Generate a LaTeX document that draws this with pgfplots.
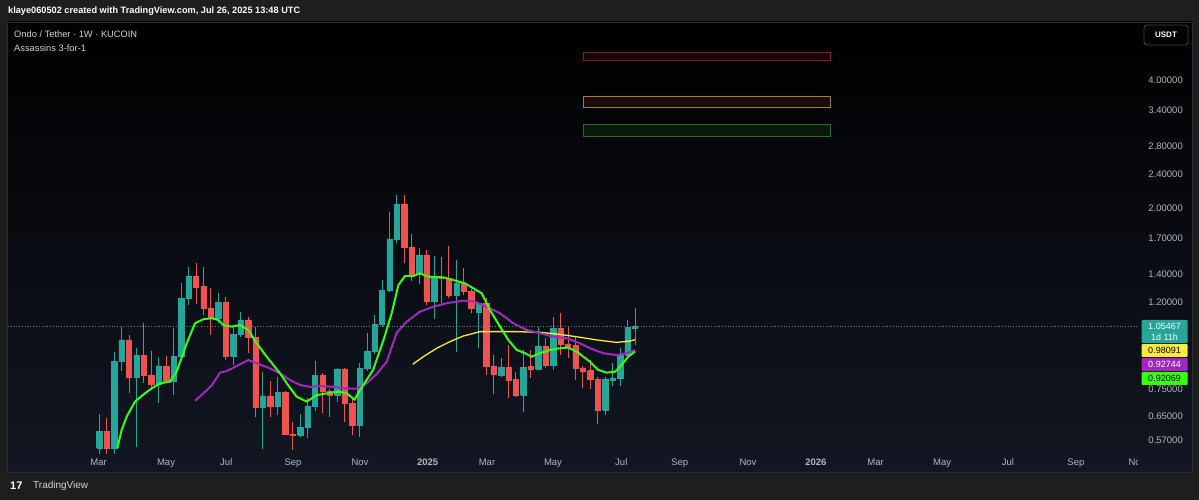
\documentclass[border=0pt]{standalone}
\usepackage{pgfplots}
\pgfplotsset{compat=1.18}
\usepackage{pgfplotstable}
\usepackage{fontspec}
\setmainfont{Liberation Sans}

\definecolor{tvbg}{RGB}{30,30,30}
\definecolor{tvpanelbot}{RGB}{18,23,35}
\definecolor{tvborder}{RGB}{42,46,57}
\definecolor{tvup}{RGB}{38,166,154}
\definecolor{tvdown}{RGB}{239,83,80}
\definecolor{tvtext}{RGB}{178,181,190}
\definecolor{tvlegend}{RGB}{209,212,220}
\definecolor{tvpriceline}{RGB}{95,120,125}
\definecolor{tvbutton}{RGB}{67,70,81}
\definecolor{emafast}{RGB}{57,255,20}
\definecolor{emamid}{RGB}{160,40,190}
\definecolor{emaslow}{RGB}{255,235,59}
\definecolor{boxred}{RGB}{125,30,42}
\definecolor{boxredfill}{RGB}{28,5,9}
\definecolor{boxyel}{RGB}{156,125,70}
\definecolor{boxyelfill}{RGB}{29,10,17}
\definecolor{boxgrn}{RGB}{45,107,40}
\definecolor{boxgrnfill}{RGB}{10,26,10}

% weekly candles, x = week index (0 = first week of Mar 2024)
\pgfplotstableread{
x o h l c
0 0.545 0.655 0.530 0.597
1 0.597 0.642 0.530 0.545
2 0.545 0.918 0.530 0.874
3 0.874 1.050 0.828 0.980
4 0.980 1.007 0.735 0.801
5 0.801 0.938 0.549 0.903
6 0.903 1.072 0.776 0.811
7 0.811 0.923 0.754 0.772
8 0.772 0.895 0.696 0.851
9 0.851 0.898 0.776 0.782
10 0.782 1.044 0.727 0.898
11 0.898 1.331 0.890 1.228
12 1.228 1.456 1.184 1.380
13 1.380 1.484 1.190 1.303
14 1.307 1.452 1.122 1.163
15 1.165 1.296 1.007 1.102
16 1.102 1.261 1.075 1.201
17 1.201 1.234 0.879 0.898
18 0.898 1.053 0.856 1.010
19 1.010 1.142 0.997 1.092
20 1.092 1.111 0.912 0.992
21 0.992 1.053 0.647 0.681
22 0.681 0.825 0.542 0.724
23 0.724 0.785 0.647 0.685
24 0.686 0.803 0.653 0.738
25 0.738 0.745 0.586 0.588
26 0.588 0.630 0.540 0.585
27 0.585 0.655 0.580 0.610
28 0.610 0.715 0.577 0.683
29 0.683 0.874 0.667 0.808
30 0.808 0.820 0.659 0.741
31 0.743 0.750 0.647 0.727
32 0.727 0.840 0.702 0.836
33 0.836 0.840 0.630 0.696
34 0.696 0.721 0.586 0.618
35 0.618 0.864 0.580 0.840
36 0.840 1.019 0.830 0.923
37 0.923 1.120 0.910 1.065
38 1.065 1.359 1.050 1.284
39 1.284 1.962 1.270 1.689
40 1.689 2.147 1.660 2.045
41 2.045 2.150 1.484 1.618
42 1.618 1.738 1.345 1.398
43 1.398 1.610 1.325 1.552
44 1.552 1.594 1.184 1.205
45 1.205 1.547 1.097 1.374
46 1.374 1.538 1.200 1.368
47 1.368 1.630 1.230 1.250
48 1.250 1.510 0.920 1.331
49 1.331 1.444 1.250 1.272
50 1.275 1.290 1.132 1.163
51 1.140 1.200 0.937 1.195
52 1.195 1.228 0.811 0.848
53 0.848 0.903 0.733 0.814
54 0.811 0.887 0.803 0.846
55 0.846 0.954 0.715 0.789
56 0.792 0.825 0.721 0.727
57 0.727 0.930 0.665 0.846
58 0.848 0.928 0.798 0.837
59 0.837 1.053 0.833 0.945
60 0.945 0.990 0.843 0.856
61 0.856 1.111 0.833 1.043
62 1.043 1.132 0.905 0.959
63 0.959 1.053 0.887 0.948
64 0.950 0.997 0.787 0.843
65 0.843 0.850 0.757 0.828
66 0.830 0.880 0.750 0.792
67 0.792 0.800 0.621 0.671
68 0.671 0.803 0.653 0.792
69 0.789 0.865 0.762 0.796
70 0.796 0.936 0.764 0.903
71 0.903 1.092 0.898 1.049
72 1.045 1.167 0.954 1.05467
}\ohlc

\pgfplotstableread{
x y
2.42 0.545
3.01 0.602
3.68 0.647
4.80 0.702
6.14 0.734
7.04 0.754
8.16 0.775
9.50 0.782
10.40 0.825
11.75 0.962
12.86 1.072
13.98 1.096
15.11 1.102
16.00 1.092
16.67 1.062
17.80 1.053
18.91 1.062
20.03 1.034
21.16 0.962
22.50 0.895
24.29 0.818
25.40 0.766
26.53 0.721
27.88 0.702
29.22 0.727
30.56 0.734
32.12 0.741
33.25 0.734
34.30 0.710
35.00 0.745
36.80 0.833
38.20 0.980
39.30 1.132
40.20 1.319
41.09 1.385
42.20 1.385
43.10 1.405
44.22 1.380
46.24 1.375
47.58 1.355
49.15 1.331
50.27 1.296
51.40 1.261
52.51 1.152
53.86 1.053
54.97 0.980
56.10 0.928
57.22 0.912
58.12 0.895
59.23 0.912
60.58 0.928
61.92 0.937
63.04 0.940
64.17 0.920
65.05 0.895
65.95 0.871
67.07 0.833
68.20 0.821
69.31 0.825
69.99 0.848
71.10 0.895
72.00 0.9207
}\fastma

\pgfplotstableread{
x y
12.86 0.705
13.98 0.734
15.11 0.766
16.22 0.821
17.12 0.828
18.47 0.851
20.03 0.879
21.16 0.864
22.94 0.840
24.29 0.818
25.63 0.789
26.98 0.768
28.32 0.760
29.66 0.764
31.45 0.760
33.25 0.754
34.60 0.753
35.94 0.775
37.28 0.815
38.63 0.871
39.97 1.019
41.32 1.082
43.10 1.142
44.89 1.173
46.69 1.195
48.92 1.212
50.50 1.205
52.07 1.173
53.86 1.132
55.65 1.072
57.45 1.034
59.23 1.016
61.02 0.997
62.82 0.989
64.61 0.962
65.95 0.937
67.74 0.912
69.54 0.903
70.89 0.912
72.00 0.9274
}\midma

\pgfplotstableread{
x y
42.12 0.859
43.55 0.895
45.35 0.937
47.14 0.971
48.92 1.001
51.17 1.025
52.96 1.025
56.10 1.025
59.23 1.021
61.48 1.012
64.17 0.997
66.85 0.980
69.54 0.967
71.33 0.974
72.00 0.9809
}\slowma

\begin{document}
\begin{tikzpicture}[x=1pt,y=1pt]
\path[use as bounding box] (0,0) rectangle (1199,500);
\fill[tvbg] (0,0) rectangle (1199,500);
\shade[top color=black, bottom color=tvpanelbot] (7,28) rectangle (1192,478);

\begin{axis}[
  at={(8pt,45pt)}, anchor=south west, scale only axis,
  width=1129pt, height=433pt,
  xmin=-12.27, xmax=139.47,
  ymode=log, ymin=0.5258, ymax=5.475,
  axis line style={draw=none}, tick style={draw=none},
  ytick=\empty,
  xtick pos=bottom,
  xtick={-0.1,8.97,17.07,26.03,35.04,44.13,52.11,60.98,70.16,78.02,87.18,96.32,104.34,113.28,122.12,131.26},
  xticklabels={Mar,May,Jul,Sep,Nov,\textbf{2025},Mar,May,Jul,Sep,Nov,\textbf{2026},Mar,May,Jul,Sep},
  xticklabel style={font=\fontsize{9.5}{11}\selectfont, text=tvtext, anchor=north, inner sep=0pt, yshift=-3.5pt},
  extra x ticks={139.4},
  extra x tick labels={Nov},
  extra x tick style={xticklabel style={xshift=0.5pt}},
]
% target zones
\addplot[draw=boxred, fill=boxredfill, line width=1pt] coordinates {(65.1,4.44) (98.3,4.44) (98.3,4.654) (65.1,4.654) (65.1,4.44)};
\addplot[draw=boxyel, fill=boxyelfill, line width=1pt] coordinates {(65.1,3.443) (98.3,3.443) (98.3,3.654) (65.1,3.654) (65.1,3.443)};
\addplot[draw=boxgrn, fill=boxgrnfill, line width=1pt] coordinates {(65.1,2.943) (98.3,2.943) (98.3,3.152) (65.1,3.152) (65.1,2.943)};

% last price line
\addplot[tvpriceline, dotted, line width=0.8pt] coordinates {(-12.27,1.05467) (139.47,1.05467)};

% candles
\pgfplotstablegetrowsof{\ohlc}
\pgfmathtruncatemacro{\nrows}{\pgfplotsretval-1}
\pgfplotsforeachungrouped \i in {0,...,\nrows}{%
  \pgfplotstablegetelem{\i}{x}\of\ohlc \let\cx\pgfplotsretval
  \pgfplotstablegetelem{\i}{o}\of\ohlc \let\co\pgfplotsretval
  \pgfplotstablegetelem{\i}{h}\of\ohlc \let\ch\pgfplotsretval
  \pgfplotstablegetelem{\i}{l}\of\ohlc \let\cl\pgfplotsretval
  \pgfplotstablegetelem{\i}{c}\of\ohlc \let\cc\pgfplotsretval
  \pgfmathsetmacro{\xa}{\cx-0.36}%
  \pgfmathsetmacro{\xb}{\cx+0.36}%
  \pgfmathparse{\cc<\co}%
  \ifdim\pgfmathresult pt>0.5pt \def\col{tvdown}\else\def\col{tvup}\fi
  \edef\temp{%
    \noexpand\addplot[\col, line width=1pt] coordinates {(\cx,\cl) (\cx,\ch)};
    \noexpand\addplot[draw=\col, fill=\col, line width=0.5pt] coordinates {(\xa,\co) (\xb,\co) (\xb,\cc) (\xa,\cc) (\xa,\co)};
  }%
  \temp
}

% moving averages
\addplot[emaslow, line width=1.3pt] table[x=x, y=y] {\slowma};
\addplot[emamid, line width=2pt] table[x=x, y=y] {\midma};
\addplot[emafast, line width=2pt] table[x=x, y=y] {\fastma};
\end{axis}

% price scale column
\shade[top color=black, bottom color=tvpanelbot] (1138.5,28) rectangle (1192,478);

\begin{axis}[
  at={(8pt,45pt)}, anchor=south west, scale only axis,
  width=1129pt, height=433pt,
  xmin=-12.27, xmax=139.47,
  ymode=log, ymin=0.5258, ymax=5.475,
  axis line style={draw=none}, tick style={draw=none},
  xtick=\empty,
  ytick={0.57,0.65,0.75,1.2,1.4,1.7,2,2.4,2.8,3.4,4},
  yticklabels={0.57000,0.65000,0.75000,1.20000,1.40000,1.70000,2.00000,2.40000,2.80000,3.40000,4.00000},
  yticklabel pos=right,
  yticklabel style={font=\fontsize{9.5}{11}\selectfont, text=tvtext, anchor=east, inner sep=0pt, xshift=46pt},
]
\end{axis}

\draw[tvborder, line width=0.8pt] (7,28) rectangle (1192,478);

% price tags
\fill[tvup, rounded corners=1pt] (1141.5,157) rectangle (1187.5,180);
\node[white, font=\fontsize{9}{10}\selectfont, inner sep=0pt] at (1164.5,173.3) {1.05467};
\node[white, font=\fontsize{9}{10}\selectfont, inner sep=0pt] at (1164.5,162.5) {1d 11h};
\fill[emaslow, rounded corners=1pt] (1141.5,143) rectangle (1187.5,156);
\node[black, font=\fontsize{9}{10}\selectfont, inner sep=0pt] at (1164.5,149.5) {0.98091};
\fill[emamid, rounded corners=1pt] (1141.5,129) rectangle (1187.5,142);
\node[white, font=\fontsize{9}{10}\selectfont, inner sep=0pt] at (1164.5,135.5) {0.92744};
\fill[emafast, rounded corners=1pt] (1141.5,115) rectangle (1187.5,128);
\node[black, font=\fontsize{9}{10}\selectfont, inner sep=0pt] at (1164.5,121.5) {0.92069};

% currency button
\draw[tvbutton, fill=black, rounded corners=3pt, line width=0.8pt] (1144,455) rectangle (1188,475);
\node[white, font=\bfseries\fontsize{8}{9}\selectfont] at (1166,465) {USDT};

% legend
\node[tvlegend, anchor=west, inner sep=0pt, font=\fontsize{9.3}{11}\selectfont] at (14,466.3) {Ondo / Tether · 1W · KUCOIN};
\node[tvlegend, anchor=west, inner sep=0pt, font=\fontsize{9.3}{11}\selectfont] at (14,452.3) {Assassins 3-for-1};

% header and footer
\node[white, anchor=west, inner sep=0pt, font=\bfseries\fontsize{9.2}{11}\selectfont] at (8,489) {klaye060502 created with TradingView.com, Jul 26, 2025 13:48 UTC};
\node[white, anchor=west, inner sep=0pt, font=\bfseries\fontsize{11}{12}\selectfont] at (10,14) {17};
\node[tvlegend, anchor=west, inner sep=0pt, font=\fontsize{10}{12}\selectfont] at (33,14) {TradingView};
\end{tikzpicture}
\end{document}
